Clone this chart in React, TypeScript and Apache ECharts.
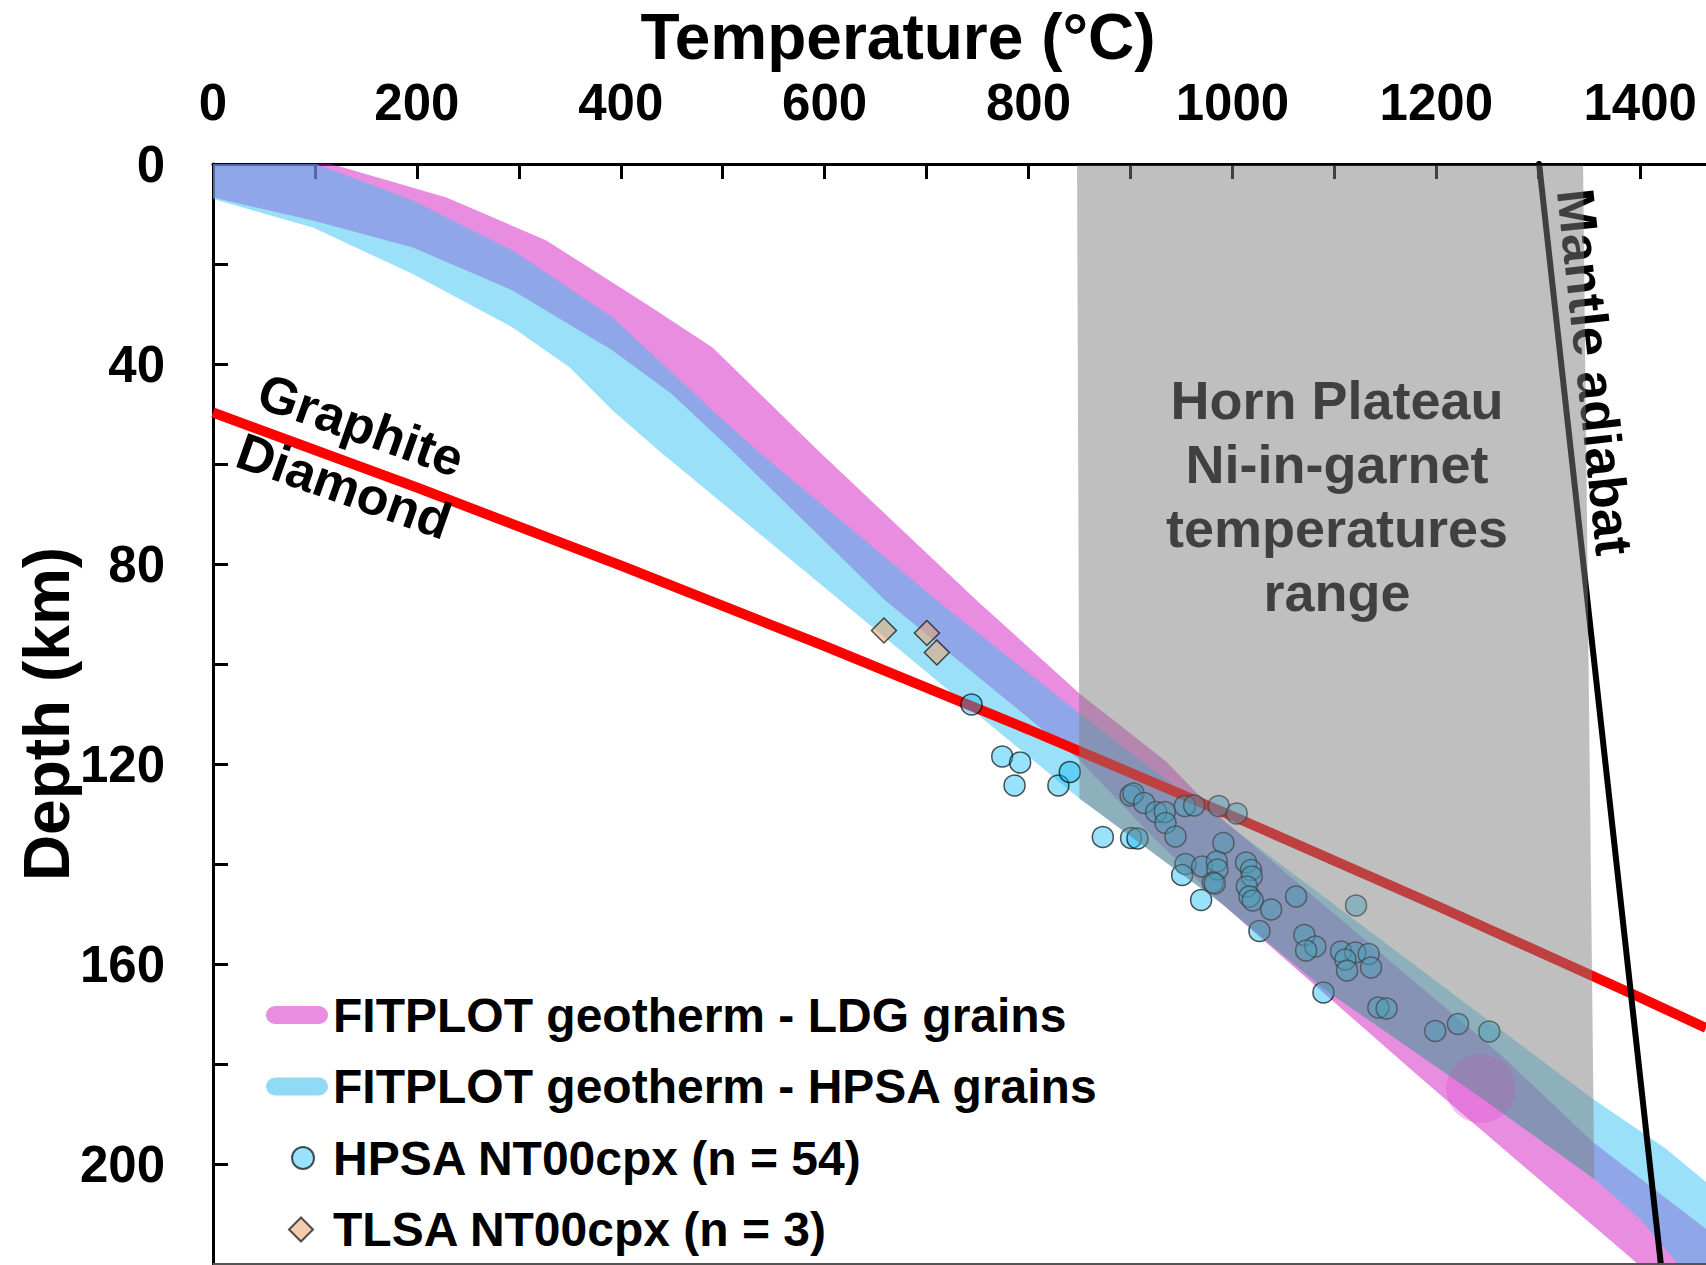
import React, { useEffect, useRef } from "react";
import * as echarts from "echarts";

const FONT = "'Liberation Sans', Arial, Helvetica, sans-serif";

// Temperature (°C), Depth (km)
const ldgHotEdge: [number, number][] = [
  [0, 0], [116, 0], [229, 6.7], [327, 15.3], [425, 28], [490, 36.7], [593, 57.2],
  [748.7, 87.2], [850, 105.9], [935, 119.5], [990, 131], [1262, 177.9], [1353, 195.5],
  [1464, 212.9], [1510, 222],
];
const ldgColdEdge: [number, number][] = [
  [0, 6.7], [98, 11.3], [196, 16.7], [294, 25.3], [392, 37.3], [450, 46], [505, 56.5],
  [659, 87.2], [850, 119.2], [925, 135.2], [990, 148], [1187, 183.2], [1399, 220.2], [1402, 222],
];
const hpsaHotEdge: [number, number][] = [
  [0, 0], [101, 0], [196, 7.3], [294, 17.3], [392, 30.7], [490, 49.3], [533, 57.2],
  [709.5, 87.2], [850, 109.9], [909, 119.2], [985, 130.5], [1353, 186.9], [1425, 196.9],
  [1464, 203.5], [1540, 222],
];
const hpsaColdEdge: [number, number][] = [
  [0, 7], [98, 12.7], [196, 22], [294, 32.7], [350, 40.7], [392, 49.3], [436.6, 57.2],
  [634.3, 90.5], [733, 107.2], [850, 126.9], [990, 148], [1089, 164.9], [1245, 186.9],
  [1355, 203], [1400, 211], [1438, 220.2], [1441, 222],
];

const hpsaPoints: [number, number][] = [
  [744.1, 108.1], [774.2, 118.5], [791.8, 119.7], [786.3, 124.3], [829.3, 124.3],
  [840.5, 121.6], [872.9, 134.6], [900.6, 134.8], [906.9, 134.9], [900.2, 126.3],
  [902.9, 125.9], [913.4, 127.8], [925.2, 129.6], [933.7, 129.6], [934.4, 131.8],
  [944.2, 134.5], [953.3, 128.4], [962.5, 128.3], [986.6, 128.4], [1004.2, 129.9],
  [991.2, 135.8], [954, 140], [950.7, 142.2], [970.3, 140.5], [984.7, 139.5],
  [985.3, 141.1], [980.8, 143.7], [982.7, 143.9], [1013.4, 139.7], [1018.3, 141.2],
  [1019, 142.5], [1014.1, 144.5], [1016.7, 146.5], [1020, 147.3], [969.3, 147.2],
  [1038, 149.1], [1062.5, 146.5], [1121.3, 148.3], [1026.5, 153.4], [1070.6, 154.2],
  [1081.4, 156.5], [1072.3, 157.3], [1106.6, 157.5], [1120.6, 157.7], [1133.7, 158],
  [1110.8, 159.1], [1112.5, 161.3], [1136, 160.7], [1089.3, 165.7], [1143.2, 168.7],
  [1151.3, 168.9], [1199, 173.4], [1221.3, 172], [1252, 173.5],
];
const tlsaPoints: [number, number][] = [[658.2, 93.3], [700.3, 93.8], [710.1, 97.7]];
const pinkMarker: [number, number][] = [[1243.7, 184.9]];

const graphiteDiamondLine: [number, number][] = [
  [0, 49.7], [200, 64.7], [400, 80.3], [600, 96.4], [800, 113.1], [1000, 130.4],
  [1200, 148.3], [1400, 166.7], [1464.6, 172.8],
];
const mantleAdiabat: [number, number][] = [[1300.9, 0], [1420.3, 220]];

const greyTopEdge: [number, number][] = [[847.6, 0.3], [1344, 0.3]];
const greyLimits = [850, 1355];

const X_MAX = 1464.6;
const Y_MAX = 220;

const LDG = "FITPLOT geotherm - LDG grains";
const HPSA = "FITPLOT geotherm - HPSA grains";
const HPSA_PTS = "HPSA NT00cpx (n = 54)";
const TLSA_PTS = "TLSA NT00cpx (n = 3)";

function polySeries(name: string, poly: [number, number][], fill: string, z: number) {
  return {
    type: "custom",
    name,
    z,
    silent: true,
    clip: true,
    data: poly,
    encode: { x: 0, y: 1 },
    itemStyle: { color: fill },
    renderItem: (params: any, api: any) => {
      if (params.dataIndex !== 0) return null;
      const pts = poly.map((p) => api.coord(p));
      return { type: "polygon", shape: { points: pts }, style: { fill } };
    },
  };
}

const ldgPoly = [...ldgHotEdge, ...ldgColdEdge.slice().reverse()];
const hpsaPoly = [...hpsaHotEdge, ...hpsaColdEdge.slice().reverse()];
const greyPoly: [number, number][] = [
  ...greyTopEdge,
  ...hpsaColdEdge.filter((p) => p[0] >= greyLimits[0] && p[0] <= greyLimits[1]).reverse(),
];

// legend icons, drawn inside a 75 x 24 box
const pillIcon = "path://M0,0 M75,24 M22,3 L66,3 A9,9 0 0 1 66,21 L22,21 A9,9 0 0 1 22,3 Z";
const circleIcon = "path://M0,0 M75,24 M61,12 A11,11 0 1 1 39,12 A11,11 0 1 1 61,12 Z";
const diamondIcon = "path://M0,0 M75,24 M48,0 L60,12 L48,24 L36,12 Z";

const deg = Math.PI / 180;

function textEl(text: string, x: number, y: number, size: number, opts: any = {}) {
  return {
    type: "text",
    x,
    y,
    rotation: opts.rotation || 0,
    z: opts.z ?? 10,
    silent: true,
    style: {
      text,
      fill: opts.fill || "#000",
      fontSize: size,
      fontWeight: "bold",
      fontFamily: FONT,
      lineHeight: opts.lineHeight,
      align: "center",
      verticalAlign: "middle",
      textAlign: "center",
      textVerticalAlign: "middle",
    },
  };
}

export default function App() {
  const ref = useRef<HTMLDivElement>(null);
  useEffect(() => {
    const chart = echarts.init(ref.current!, null, { renderer: "svg" });
    const option: any = {
      animation: false,
      backgroundColor: "#fff",
      grid: { left: 213, top: 164, right: 0, bottom: 1, containLabel: false },
      xAxis: {
        type: "value",
        position: "top",
        min: 0,
        max: X_MAX,
        interval: 100,
        axisLine: { show: true, onZero: false, lineStyle: { color: "#000", width: 3 } },
        axisTick: { show: true, inside: true, length: 15, lineStyle: { color: "#000", width: 3 } },
        splitLine: { show: false },
        axisLabel: {
          margin: 36,
          showMaxLabel: false,
          color: "#000",
          fontSize: 51,
          fontWeight: "bold",
          fontFamily: FONT,
          formatter: (v: number) => (Math.abs(v % 200) < 1e-6 ? String(v) : ""),
        },
      },
      yAxis: {
        type: "value",
        inverse: true,
        min: 0,
        max: Y_MAX,
        interval: 20,
        axisLine: { show: true, onZero: false, lineStyle: { color: "#000", width: 3 } },
        axisTick: { show: true, inside: true, length: 15, lineStyle: { color: "#000", width: 3 } },
        splitLine: { show: false },
        axisLabel: {
          margin: 48,
          color: "#000",
          fontSize: 51,
          fontWeight: "bold",
          fontFamily: FONT,
          formatter: (v: number) => (Math.abs(v % 40) < 1e-6 ? String(v) : ""),
        },
      },
      legend: {
        orient: "vertical",
        left: 247,
        top: 986,
        itemGap: 23.5,
        itemWidth: 75,
        itemHeight: 24,
        selectedMode: false,
        textStyle: { fontSize: 48, fontWeight: "bold", color: "#000", fontFamily: FONT },
        data: [
          { name: LDG, icon: pillIcon, itemStyle: { color: "#e88de0", borderWidth: 0 } },
          { name: HPSA, icon: pillIcon, itemStyle: { color: "#8fdbf6", borderWidth: 0 } },
          { name: HPSA_PTS, icon: circleIcon },
          { name: TLSA_PTS, icon: diamondIcon },
        ],
      },
      graphic: [
        textEl("Temperature (°C)", 898, 37, 64),
        textEl("Depth (km)", 47, 714, 64, { rotation: Math.PI / 2 }),
        textEl("Graphite", 361, 425, 52, { rotation: -19.5 * deg }),
        textEl("Diamond", 344, 486, 52, { rotation: -19.5 * deg }),
        textEl("Horn Plateau\nNi-in-garnet\ntemperatures\nrange", 1337, 496, 54, { lineHeight: 64, z: 3 }),
        textEl("Mantle adiabat", 1595, 372, 53, { rotation: -83.8 * deg, z: 3 }),
        {
          type: "line",
          z: 10,
          silent: true,
          shape: { x1: 213, y1: 1264, x2: 1706, y2: 1264 },
          style: { stroke: "#555", lineWidth: 2 },
        },
      ],
      series: [
        polySeries(LDG, ldgPoly, "rgba(209,27,193,0.5)", 2),
        polySeries(HPSA, hpsaPoly, "rgba(53,193,241,0.5)", 2),
        {
          type: "scatter",
          name: "marker",
          z: 2,
          silent: true,
          data: pinkMarker,
          symbol: "circle",
          symbolSize: 69,
          itemStyle: { color: "rgba(225,80,215,0.45)", borderWidth: 0 },
        },
        {
          type: "scatter",
          name: HPSA_PTS,
          z: 2,
          silent: true,
          data: hpsaPoints,
          symbol: "circle",
          symbolSize: 21,
          itemStyle: { color: "rgba(20,190,245,0.55)", borderColor: "rgba(0,0,0,0.85)", borderWidth: 1.5 },
        },
        {
          type: "scatter",
          name: TLSA_PTS,
          z: 2,
          silent: true,
          data: tlsaPoints,
          symbol: "diamond",
          symbolSize: 25,
          itemStyle: { color: "rgba(235,165,115,0.72)", borderColor: "rgba(0,0,0,0.85)", borderWidth: 1.5 },
        },
        {
          type: "line",
          name: "Graphite-Diamond",
          z: 2,
          silent: true,
          data: graphiteDiamondLine,
          showSymbol: false,
          symbol: "none",
          lineStyle: { color: "#ff0000", width: 10 },
        },
        {
          type: "line",
          name: "Mantle adiabat",
          z: 2,
          silent: true,
          data: mantleAdiabat,
          showSymbol: false,
          symbol: "none",
          lineStyle: { color: "#000", width: 6, cap: "round" },
        },
        polySeries("Horn Plateau range", greyPoly, "rgba(128,128,128,0.5)", 5),
      ],
    };
    chart.setOption(option);
    return () => chart.dispose();
  }, []);
  return (
    <div
      ref={ref}
      style={{ position: "absolute", left: 0, top: 0, width: 1706, height: 1265, background: "#fff" }}
    />
  );
}
